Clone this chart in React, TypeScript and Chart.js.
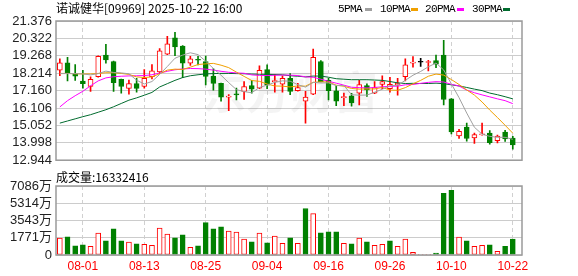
import React, { useEffect, useRef } from "react";
import { Chart, registerables } from "chart.js";

Chart.register(...registerables);

// ---------- data ----------
const dates = [
  "07-29", "07-30", "07-31", "08-01", "08-04", "08-05", "08-06", "08-07", "08-08", "08-11",
  "08-12", "08-13", "08-14", "08-15", "08-18", "08-19", "08-20", "08-21", "08-22", "08-25",
  "08-26", "08-27", "08-28", "08-29", "09-01", "09-02", "09-03", "09-04", "09-05", "09-08",
  "09-09", "09-10", "09-11", "09-12", "09-15", "09-16", "09-17", "09-18", "09-19", "09-22",
  "09-23", "09-24", "09-25", "09-26", "09-29", "09-30", "10-02", "10-03", "10-06", "10-08",
  "10-09", "10-10", "10-13", "10-14", "10-15", "10-16", "10-17", "10-20", "10-21", "10-22",
];

const xTickLabels = ["08-01", "08-13", "08-25", "09-04", "09-16", "09-26", "10-10", "10-22"];

const opens = [
  18.39, 18.84, 18.19, 17.74, 17.41, 18.0, 19.31, 18.92, 17.84, 17.29,
  17.58, 17.41, 18.0, 18.29, 19.37, 20.36, 19.86, 18.82, 19.04, 18.92,
  18.04, 17.6, 16.76, 16.92, 17.11, 17.46, 17.31, 18.43, 17.7, 17.55,
  17.9, 17.15, 16.52, 16.94, 18.92, 17.78, 17.15, 16.73, 16.84, 17.0,
  17.46, 17.01, 17.54, 17.28, 17.5, 18.0, 18.82, 18.88, 18.86, 18.98,
  19.31, 16.66, 14.41, 14.95, 14.3, 14.48, 14.58, 14.12, 14.65, 14.28,
];
const highs = [
  19.08, 19.18, 18.74, 18.39, 18.0, 19.26, 19.96, 18.95, 17.86, 17.8,
  17.9, 18.43, 18.74, 19.71, 20.45, 20.69, 19.88, 19.24, 19.24, 19.25,
  18.49, 17.62, 16.92, 17.31, 17.7, 17.78, 18.66, 18.72, 18.14, 18.06,
  18.19, 17.6, 17.11, 19.67, 18.98, 17.9, 17.43, 17.01, 16.99, 17.78,
  17.57, 17.7, 18.06, 17.96, 17.9, 19.08, 19.22, 19.12, 19.0, 19.31,
  20.21, 16.68, 14.81, 15.19, 14.58, 15.19, 14.74, 14.46, 14.75, 14.39,
];
const lows = [
  18.06, 17.74, 17.78, 17.31, 17.11, 17.98, 18.82, 17.11, 17.01, 16.95,
  17.07, 17.31, 17.86, 18.19, 19.33, 19.27, 17.94, 18.68, 18.72, 17.5,
  17.19, 16.52, 15.95, 16.6, 16.62, 17.01, 17.27, 17.28, 17.07, 17.07,
  16.91, 17.13, 15.19, 16.91, 17.68, 16.6, 16.25, 16.25, 16.22, 16.29,
  16.81, 16.98, 17.27, 17.07, 16.89, 17.75, 18.58, 18.62, 18.35, 18.55,
  16.29, 14.54, 14.26, 14.09, 13.96, 14.46, 13.91, 13.99, 14.08, 13.61,
];
const closes = [
  18.84, 18.25, 18.03, 17.58, 17.84, 19.24, 19.02, 17.64, 17.41, 17.58,
  17.29, 17.9, 18.35, 19.57, 20.0, 19.8, 18.82, 19.08, 19.0, 18.02,
  17.6, 16.76, 16.82, 16.9, 17.41, 17.25, 18.39, 17.49, 17.74, 17.9,
  17.11, 17.35, 16.76, 19.18, 17.7, 17.15, 16.52, 16.78, 16.42, 17.53,
  17.21, 17.34, 17.7, 17.54, 17.6, 18.72, 18.88, 18.88, 18.92, 18.76,
  16.62, 14.65, 14.7, 14.26, 14.49, 14.52, 14.0, 14.4, 14.24, 13.87,
];

// volume in 万 shares
const volumes = [
  1729, 1867, 933, 1037, 899, 2247, 1452, 2696, 1452, 1314,
  1141, 1106, 1003, 2766, 2143, 1763, 2074, 795, 933, 3319,
  2696, 2904, 2454, 2351, 1625, 1348, 2247, 1245, 1936, 1210,
  1763, 1210, 4771, 4252, 2282, 2385, 2385, 1210, 1141, 1729,
  1348, 1003, 1106, 1452, 899, 1625, 277, 69, 69, 207,
  6326, 6637, 1832, 1452, 899, 1003, 1037, 380, 899, 1633,
];
// volume bar direction (1 = up/red, 0 = down/green)
const volumeUp = [
  1, 0, 0, 0, 1, 1, 0, 0, 0, 1,
  0, 1, 1, 1, 1, 0, 0, 1, 0, 0,
  0, 0, 1, 1, 1, 0, 1, 0, 1, 1,
  0, 1, 0, 1, 0, 0, 0, 1, 0, 1,
  0, 1, 1, 0, 1, 1, 1, 1, 1, 0,
  0, 0, 1, 0, 1, 1, 0, 1, 0, 0,
];

const ma5 = [
  18.19, 18.19, 18.19, 18.17, 18.11, 18.19, 18.34, 18.26, 18.23, 18.18,
  17.79, 17.56, 17.71, 18.14, 18.62, 19.12, 19.31, 19.45, 19.34, 18.94,
  18.5, 18.09, 17.64, 17.22, 17.1, 17.03, 17.35, 17.49, 17.66, 17.75,
  17.73, 17.52, 17.37, 17.66, 17.62, 17.63, 17.46, 17.47, 16.91, 16.88,
  16.89, 17.06, 17.24, 17.46, 17.48, 17.78, 18.09, 18.32, 18.6, 18.83,
  18.41, 17.57, 16.73, 15.8, 14.94, 14.52, 14.39, 14.33, 14.33, 14.21,
];
const ma10 = [
  18.2, 18.2, 18.18, 18.17, 18.17, 18.2, 18.24, 18.24, 18.2, 18.14,
  17.99, 17.95, 17.99, 18.18, 18.4, 18.46, 18.44, 18.58, 18.74, 18.78,
  18.81, 18.7, 18.55, 18.28, 18.02, 17.77, 17.72, 17.56, 17.44, 17.43,
  17.38, 17.44, 17.43, 17.66, 17.69, 17.68, 17.49, 17.42, 17.29, 17.25,
  17.26, 17.26, 17.35, 17.19, 17.18, 17.34, 17.57, 17.78, 18.03, 18.16,
  18.1, 17.83, 17.53, 17.2, 16.89, 16.47, 15.98, 15.53, 15.06, 14.58,
];
const ma20 = [
  16.17, 16.55, 16.85, 17.12, 17.45, 17.75, 17.93, 18.0, 18.03, 18.05,
  18.06, 18.07, 18.12, 18.22, 18.33, 18.42, 18.47, 18.5, 18.49, 18.46,
  18.4, 18.33, 18.27, 18.23, 18.21, 18.11, 18.08, 18.07, 18.09, 18.1,
  18.1, 18.07, 17.99, 17.97, 17.85, 17.72, 17.61, 17.49, 17.36, 17.34,
  17.32, 17.35, 17.39, 17.42, 17.43, 17.51, 17.53, 17.6, 17.66, 17.7,
  17.68, 17.54, 17.44, 17.19, 17.03, 16.9, 16.78, 16.66, 16.55, 16.37,
];
const ma30 = [
  15.19, 15.32, 15.45, 15.58, 15.7, 15.85, 16.0, 16.18, 16.38, 16.58,
  16.72, 16.88, 17.05, 17.38, 17.58, 17.78, 17.95, 18.06, 18.12, 18.17,
  18.19, 18.2, 18.2, 18.19, 18.18, 18.16, 18.15, 18.14, 18.13, 18.12,
  18.06, 18.03, 17.99, 18.04, 18.04, 17.97, 17.88, 17.85, 17.82, 17.82,
  17.82, 17.8, 17.78, 17.71, 17.63, 17.59, 17.6, 17.59, 17.59, 17.61,
  17.58, 17.51, 17.44, 17.35, 17.25, 17.16, 17.01, 16.91, 16.79, 16.66,
];

const priceTicks = [12.944, 13.998, 15.052, 16.106, 17.16, 18.214, 19.268, 20.322, 21.376];
const volumeTicks = [0, 1771, 3543, 5314, 7086];

const titleText = "诺诚健华[09969] 2025-10-22 16:00";
const volumeTitle = "成交量:16332416";
const legendItems = [
  { label: "5PMA", color: "#a0a0a0" },
  { label: "10PMA", color: "#f0a000" },
  { label: "20PMA", color: "#ff00ff" },
  { label: "30PMA", color: "#006b2e" },
];
const maSeries = [ma5, ma10, ma20, ma30];

// ---------- styles ----------
const RED = "#ff0000";
const GREEN = "#008000";
const GRID = "#cccccc";
const AXIS_FONT = '"Liberation Sans", Arial, "Noto Sans CJK SC", sans-serif';
const CJK_FONT = '"Noto Sans CJK SC", "Liberation Sans", sans-serif';
const X_MIN = -0.5;
const X_MAX = 60.2;

const tickIdx = xTickLabels.map((d) => dates.indexOf(d));

const candleColor = (i: number) =>
  closes[i] > opens[i] ? RED : closes[i] < opens[i] ? GREEN : "#000000";

const framePlugin = {
  id: "frame",
  afterDatasetsDraw(chart: any) {
    const { ctx, chartArea: a } = chart;
    ctx.save();
    ctx.strokeStyle = "#9a9a9a";
    ctx.lineWidth = 1.5;
    ctx.strokeRect(a.left, a.top, a.right - a.left, a.bottom - a.top);
    ctx.restore();
  },
};

const watermarkPlugin = {
  id: "watermark",
  beforeDatasetsDraw(chart: any) {
    const { ctx } = chart;
    ctx.save();
    ctx.fillStyle = "rgba(0,0,0,0.045)";
    ctx.font = `bold 44px ${CJK_FONT}`;
    ctx.textAlign = "center";
    ctx.textBaseline = "middle";
    ctx.fillText("东方财富", 290, 92);
    ctx.restore();
  },
};

const makeXScale = (showLabels: boolean) => ({
  type: "linear",
  min: X_MIN,
  max: X_MAX,
  offset: false,
  afterBuildTicks: (s: any) => {
    s.ticks = tickIdx.map((v) => ({ value: v }));
  },
  afterFit: (s: any) => {
    s.height = showLabels ? 21 : 0;
  },
  grid: { color: "#d0d0d0", lineWidth: 1, drawTicks: false, offset: false },
  border: { display: false, dash: [4, 3] },
  ticks: {
    display: showLabels,
    autoSkip: false,
    maxRotation: 0,
    padding: 4,
    color: RED,
    font: { family: AXIS_FONT, size: 12 },
    callback: (v: any) => dates[Math.round(Number(v))] ?? "",
  },
});

const makeYScale = (ticks: number[], fmt: (v: number) => string) => ({
  type: "linear",
  min: ticks[0],
  max: ticks[ticks.length - 1],
  afterBuildTicks: (s: any) => {
    s.ticks = ticks.map((v) => ({ value: v }));
  },
  afterFit: (s: any) => {
    s.width = 56;
  },
  grid: { color: GRID, drawTicks: false },
  border: { display: false },
  ticks: {
    autoSkip: false,
    color: "#222",
    padding: 4,
    font: { family: AXIS_FONT, size: 13 },
    callback: (v: any) => fmt(Number(v)),
  },
});

export default function App() {
  const priceRef = useRef<HTMLCanvasElement>(null);
  const volRef = useRef<HTMLCanvasElement>(null);

  useEffect(() => {
    const idx = dates.map((_, i) => i);

    const priceChart = new Chart(priceRef.current as HTMLCanvasElement, {
      type: "bar",
      data: {
        datasets: [
          ...maSeries.map((s, k) => ({
            type: "line" as const,
            data: idx.map((i) => ({ x: i, y: s[i] })),
            borderColor: legendItems[k].color,
            borderWidth: 1,
            pointRadius: 0,
            tension: 0,
            order: 0,
          })),
          {
            type: "bar" as const,
            data: idx.map((i) => ({ x: i, y: [opens[i], closes[i]] })),
            backgroundColor: idx.map((i) =>
              closes[i] > opens[i] ? "#ffffff" : candleColor(i)
            ),
            borderColor: idx.map(candleColor),
            borderWidth: 1,
            borderSkipped: false,
            barThickness: 5,
            minBarLength: 1,
            grouped: false,
            order: 1,
          },
          {
            type: "bar" as const,
            data: idx.map((i) => ({ x: i, y: [lows[i], highs[i]] })),
            backgroundColor: idx.map(candleColor),
            borderWidth: 0,
            barThickness: 1,
            grouped: false,
            order: 2,
          },
        ] as any,
      },
      options: {
        responsive: false,
        animation: false,
        events: [],
        layout: { padding: { top: 21, right: 56, bottom: 8, left: 0 } },
        plugins: { legend: { display: false }, tooltip: { enabled: false } },
        scales: {
          x: makeXScale(false) as any,
          y: makeYScale(priceTicks, (v) => v.toFixed(3)) as any,
        },
      },
      plugins: [watermarkPlugin, framePlugin],
    });

    const volChart = new Chart(volRef.current as HTMLCanvasElement, {
      type: "bar",
      data: {
        datasets: [
          {
            data: idx.map((i) => ({ x: i, y: volumes[i] })),
            backgroundColor: idx.map((i) => (volumeUp[i] ? "#ffffff" : GREEN)),
            borderColor: idx.map((i) => (volumeUp[i] ? RED : GREEN)),
            borderWidth: 1,
            borderSkipped: false,
            barThickness: 5,
            grouped: false,
          } as any,
        ],
      },
      options: {
        responsive: false,
        animation: false,
        events: [],
        layout: { padding: { top: 16, right: 56, bottom: 0, left: 0 } },
        plugins: { legend: { display: false }, tooltip: { enabled: false } },
        scales: {
          x: makeXScale(true) as any,
          y: makeYScale(volumeTicks, (v) => (v === 0 ? "0" : `${v}万`)) as any,
        },
      },
      plugins: [framePlugin],
    });

    return () => {
      priceChart.destroy();
      volChart.destroy();
    };
  }, []);

  const legendX = [338, 380, 425, 472];
  const dashX = [365, 411, 457, 503];

  return (
    <div
      style={{
        position: "fixed",
        left: 0,
        top: 0,
        width: 578,
        height: 276,
        background: "#fff",
        overflow: "hidden",
      }}
    >
      <canvas
        ref={priceRef}
        width={578}
        height={172}
        style={{ position: "absolute", left: 0, top: 0 }}
      />
      <canvas
        ref={volRef}
        width={578}
        height={106}
        style={{ position: "absolute", left: 0, top: 170 }}
      />
      <div
        style={{
          position: "absolute",
          left: 56,
          top: 0,
          font: `12px ${CJK_FONT}`,
          lineHeight: "16px",
          color: "#000",
          whiteSpace: "nowrap",
        }}
      >
        {titleText}
      </div>
      {legendItems.map((it, k) => (
        <React.Fragment key={it.label}>
          <div
            style={{
              position: "absolute",
              left: legendX[k],
              top: 1,
              font: '11px "Liberation Mono", "Courier New", monospace',
              letterSpacing: "-0.6px",
              lineHeight: "16px",
              color: "#000",
              whiteSpace: "nowrap",
            }}
          >
            {it.label}
          </div>
          <div
            style={{
              position: "absolute",
              left: dashX[k],
              top: 8,
              width: 7,
              height: 3,
              background: it.color,
            }}
          />
        </React.Fragment>
      ))}
      <div
        style={{
          position: "absolute",
          left: 56,
          top: 169,
          font: `12px ${CJK_FONT}`,
          lineHeight: "16px",
          color: "#000",
          whiteSpace: "nowrap",
        }}
      >
        {volumeTitle}
      </div>
    </div>
  );
}
